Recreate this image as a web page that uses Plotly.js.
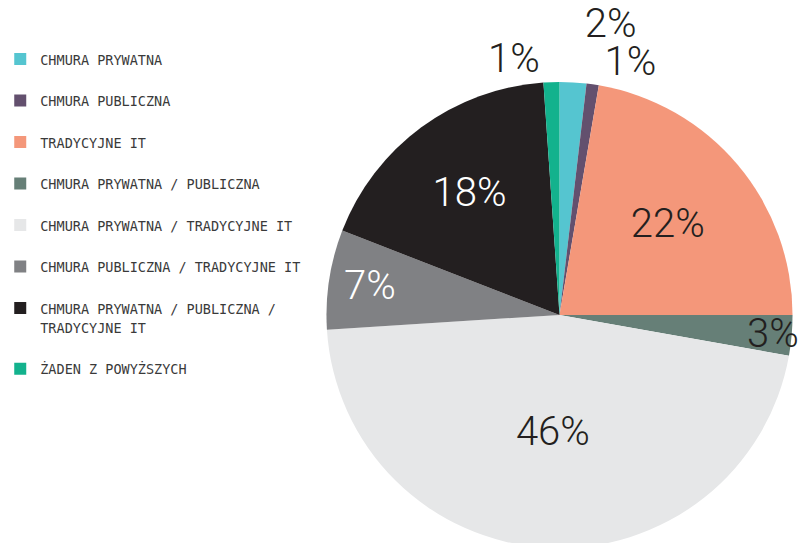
<!DOCTYPE html>
<html>
<head>
<meta charset="utf-8">
<script src="https://cdn.plot.ly/plotly-3.0.1.min.js"></script>
<style>
  html, body { margin: 0; padding: 0; overflow: hidden; background: #fff; }
</style>
</head>
<body>
<div id="chart"></div>
<script>
// categories and shares (%)
const labels = [
  'CHMURA PRYWATNA',
  'CHMURA PUBLICZNA',
  'TRADYCYJNE IT',
  'CHMURA PRYWATNA / PUBLICZNA',
  'CHMURA PRYWATNA / TRADYCYJNE IT',
  'CHMURA PUBLICZNA / TRADYCYJNE IT',
  'CHMURA PRYWATNA / PUBLICZNA /<br>TRADYCYJNE IT',
  'ŻADEN Z POWYŻSZYCH'
];
const values = [1.85, 0.85, 22.3, 2.8, 46.2, 6.9, 18.0, 1.1];
const shown = ['2%', '1%', '22%', '3%', '46%', '7%', '18%', '1%'];

const colors = ['#55c5d0', '#63506e', '#f4977a', '#667f77', '#e6e7e8', '#808184', '#231f20', '#13b28d'];
const textColors = ['#231f20', '#231f20', '#231f20', '#231f20', '#231f20', '#ffffff', '#ffffff', '#231f20'];
const positions = ['outside', 'outside', 'inside', 'inside', 'inside', 'inside', 'inside', 'outside'];

const H = 560;
const pctFont = { family: 'Roboto, sans-serif', size: 40, weight: 300 };

// legend rows get an empty second line so the spacing matches the picture
const legendLabels = labels.map(l => '<span style="font-size:13.5px">' + l.replace('<br>', '</span><br><span style="font-size:13.5px">') + '</span><br> ');

const trace = {
  type: 'pie',
  labels: legendLabels,
  values: values,
  text: shown,
  textinfo: 'text',
  textposition: positions,
  insidetextorientation: 'horizontal',
  sort: false,
  direction: 'clockwise',
  rotation: 0,
  marker: { colors: colors, line: { width: 0 } },
  textfont: Object.assign({}, pctFont, { color: textColors }),
  outsidetextfont: Object.assign({}, pctFont, { color: '#231f20' }),
  domain: { x: [323.5 / 798, 792.5 / 798], y: [(H - 549.5) / H, (H - 80.5) / H] },
  hoverinfo: 'label+percent'
};

const layout = {
  width: 798,
  height: H,
  margin: { l: 0, r: 0, t: 0, b: 0 },
  paper_bgcolor: '#fff',
  showlegend: true,
  uniformtext: { minsize: 40, mode: 'show' },
  legend: {
    x: -0.006,
    y: (H - 43) / H,
    xanchor: 'left',
    yanchor: 'top',
    valign: 'top',
    font: { family: 'DejaVu Sans Mono, monospace', size: 14.8, color: '#3a3a3a' },
    bgcolor: 'rgba(0,0,0,0)'
  }
};

Plotly.newPlot('chart', [trace], layout, { displayModeBar: false, staticPlot: true }).then(() => {
  // the reference has no leader lines on the small outside labels
  document.querySelectorAll('#chart path.textline').forEach(p => p.remove());
  // the stacked "2%" label sits a little lower in the reference, clear of the top edge
  const first = document.querySelectorAll('#chart g.slice')[0];
  const t = first && first.querySelector('g.slicetext text');
  if (t) t.setAttribute('transform', (t.getAttribute('transform') || '') + ' translate(0,9)');
});
</script>
</body>
</html>
